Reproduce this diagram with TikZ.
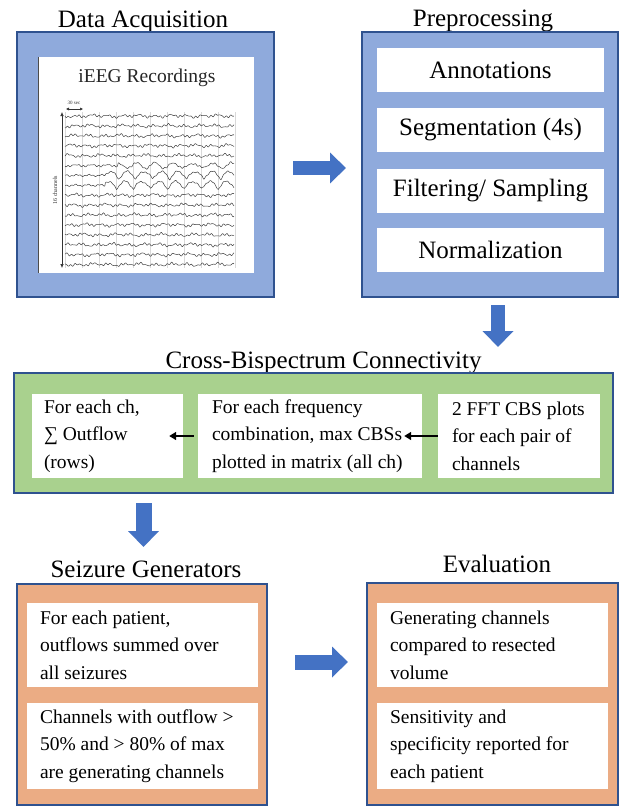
\documentclass[tikz,border=0pt]{standalone}
\usepackage{fontspec}
\setmainfont{LiberationSerif}[Extension=.ttf, UprightFont=*-Regular, BoldFont=*-Bold, ItalicFont=*-Italic]
\usetikzlibrary{arrows.meta}
\definecolor{bfill}{HTML}{8FAADC}
\definecolor{gfill}{HTML}{A9D18E}
\definecolor{ofill}{HTML}{EBAC84}
\definecolor{edgeblue}{HTML}{2F528F}
\definecolor{arrblue}{HTML}{4472C4}
\begin{document}
\begin{tikzpicture}[x=1pt,y=-1pt,
  panel/.style={draw=edgeblue, line width=1.3pt, inner sep=0pt},
  wbox/.style={fill=white, inner sep=0pt},
  title/.style={font=\fontsize{25}{30}\selectfont, inner sep=0pt, anchor=base},
  bigtxt/.style={font=\fontsize{25}{30}\selectfont, inner sep=0pt},
  txt/.style={font=\fontsize{19.5}{27.5}\selectfont, inner sep=0pt, align=left, anchor=west},
  fatarrow/.style={arrblue, line width=#1, -{Triangle[width=30pt,length=16pt]}},
  smallarr/.style={line width=1.6pt, -{Triangle[width=8pt,length=7pt]}},
  trace/.style={black!75, line width=0.5pt}
]
\useasboundingbox (0,0) rectangle (622,806);
\fill[white] (0,0) rectangle (622,806);

% ---------- Data Acquisition ----------
\node[title] (tda) at (143,27) {Data Acquisition};
\node[panel, fill=bfill, minimum width=257pt, minimum height=265pt] (da) at (145.5,164.5) {};
\node[wbox, minimum width=215pt, minimum height=216pt] (img) at (146.5,165) {};
\draw[black!70, line width=0.8pt] (img.north west) -- (img.south west);
\node[font=\fontsize{19.5}{24}\selectfont, inner sep=0pt, text=black!85] (ieeg) at (147,78) {iEEG Recordings};
\foreach \gx in {65,82,...,235} \draw[black!15, line width=0.3pt] (\gx,112) -- (\gx,268);
\foreach \i in {0,1,2,3,4,8,9,10,11,12,13,14,15} {
  \draw[trace] plot[domain=0:169, samples=220] (65+\x, {116+9.9*\i + 0.9*sin(23*\x+47*\i) + 0.7*sin(71*\x+113*\i) + 0.5*sin(9*\x+71*\i) + 0.45*sin(93*\x+29*\i)});
}
\draw[trace] plot[domain=0:169, samples=220] (65+\x, {116+9.9*5 + 0.8*sin(23*\x+17) + 0.5*sin(71*\x+33) + 0.4*sin(93*\x) + (\x>53)*2.4*sin(19*\x)});
\foreach \i in {6,7} {
  \draw[trace] plot[domain=0:169, samples=260] (65+\x, {116+9.9*\i + 0.7*sin(29*\x+47*\i) + 0.5*sin(83*\x+13*\i) + (\x>40)*3.8*(1-2*abs(sin(10.6*\x+25*\i)))});
}
\coordinate (vtop) at (62,112);
\coordinate (vbot) at (62,268);
\draw[black!80, line width=0.6pt, {Latex[length=4pt,width=3.5pt]}-{Latex[length=4pt,width=3.5pt]}] (vtop) -- (vbot);
\node[rotate=90, font=\fontsize{6}{7}\selectfont, inner sep=0pt, text=black!80] (chl) at (55,190) {16 channels};
\node[font=\fontsize{5}{6}\selectfont, inner sep=0pt, text=black!80] (sec) at (74,103) {30 sec};
\coordinate (sl) at (66,109);
\coordinate (sr) at (83,109);
\draw[black!80, line width=0.5pt, {Latex[length=3pt,width=3pt]}-{Latex[length=3pt,width=3pt]}] (sl) -- (sr);

% ---------- Preprocessing ----------
\node[title] (tpp) at (483,26) {Preprocessing};
\node[panel, fill=bfill, minimum width=256pt, minimum height=265pt] (pp) at (490,164.5) {};
\node[wbox, bigtxt, minimum width=227pt, minimum height=44pt] (p1) at (490.5,70) {Annotations};
\node[wbox, bigtxt, minimum width=227pt, minimum height=44pt] (p2) at (490.5,130) {Segmentation (4s)};
\node[wbox, bigtxt, minimum width=227pt, minimum height=44pt] (p3) at (490.5,191) {Filtering/ Sampling};
\node[wbox, bigtxt, minimum width=227pt, minimum height=44pt] (p4) at (490.5,250) {Normalization};

\coordinate (r1s) at (293,168);
\coordinate (r1e) at (346,168);
\draw[fatarrow=14pt] (r1s) -- (r1e);

\coordinate (d1s) at (498,305);
\coordinate (d1e) at (498,347);
\draw[fatarrow=14pt] (d1s) -- (d1e);

% ---------- Cross-Bispectrum ----------
\node[title] (tcb) at (323.5,368) {Cross-Bispectrum Connectivity};
\node[panel, fill=gfill, minimum width=599pt, minimum height=120pt] (cb) at (313.5,433) {};
\node[wbox, minimum width=151pt, minimum height=84pt] (g1) at (107.5,436) {};
\node[wbox, minimum width=224pt, minimum height=84pt] (g2) at (310,436) {};
\node[wbox, minimum width=162pt, minimum height=84pt] (g3) at (519,436) {};
\node[txt] (g1t) at ([xshift=12pt]g1.west) {For each ch,\\∑ Outflow\\(rows)};
\node[txt] (g2t) at ([xshift=14pt]g2.west) {For each frequency\\combination, max CBSs\\plotted in matrix (all ch)};
\node[txt] (g3t) at ([xshift=14pt]g3.west) {2 FFT CBS plots\\for each pair of\\channels};
\coordinate (a1s) at ([xshift=-4pt]g2.west);
\coordinate (a1e) at ([xshift=-14pt]g1.east);
\draw[smallarr] (a1s) -- (a1e);
\coordinate (a2e) at ([xshift=-18pt]g2.east);
\draw[smallarr] (g3.west) -- (a2e);

\coordinate (d2s) at (143.5,503);
\coordinate (d2e) at (143.5,547);
\draw[fatarrow=16pt] (d2s) -- (d2e);

% ---------- Seizure Generators ----------
\node[title] (tsg) at (146,577) {Seizure Generators};
\node[panel, fill=ofill, minimum width=250pt, minimum height=221pt] (sg) at (142,694.5) {};
\node[wbox, minimum width=231pt, minimum height=84pt] (s1) at (142.5,645) {};
\node[wbox, minimum width=231pt, minimum height=86pt] (s2) at (142.5,746) {};
\node[txt] (s1t) at ([xshift=13pt]s1.west) {For each patient,\\outflows summed over\\all seizures};
\node[txt] (s2t) at ([xshift=13pt]s2.west) {Channels with outflow >\\50\% and > 80\% of max\\are generating channels};

\coordinate (r2s) at (295,662);
\coordinate (r2e) at (348,662);
\draw[fatarrow=15pt] (r2s) -- (r2e);

% ---------- Evaluation ----------
\node[title] (tev) at (497,572) {Evaluation};
\node[panel, fill=ofill, minimum width=251pt, minimum height=222pt] (ev) at (492.5,694) {};
\node[wbox, minimum width=231pt, minimum height=84pt] (e1) at (492.5,645) {};
\node[wbox, minimum width=231pt, minimum height=86pt] (e2) at (492.5,746) {};
\node[txt] (e1t) at ([xshift=13pt]e1.west) {Generating channels\\compared to resected\\volume};
\node[txt] (e2t) at ([xshift=13pt]e2.west) {Sensitivity and\\specificity reported for\\each patient};
\end{tikzpicture}
\end{document}
